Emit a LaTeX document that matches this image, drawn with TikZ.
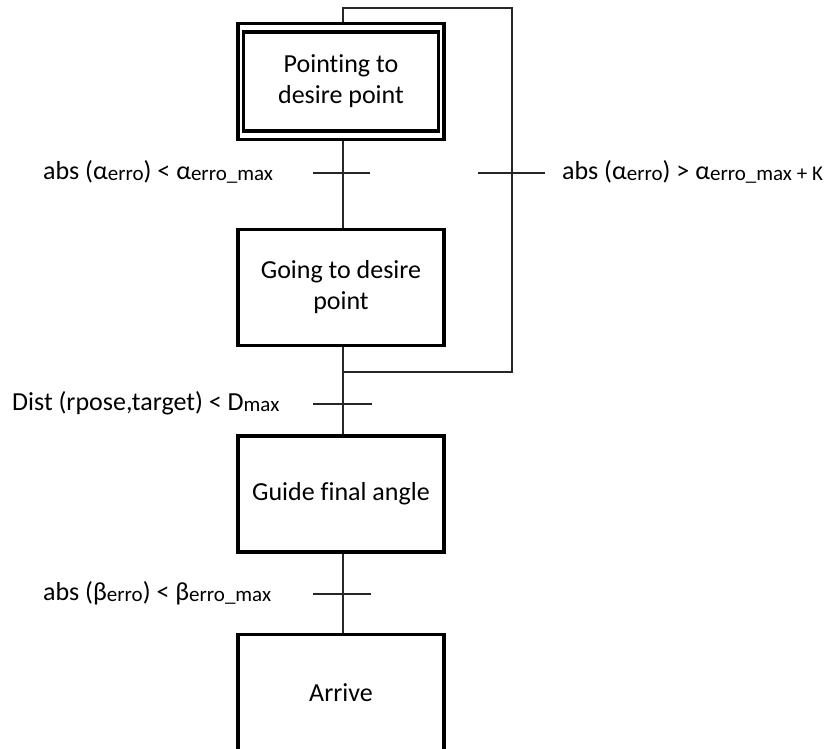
\documentclass[tikz,border=0pt]{standalone}
\usepackage{fontspec}
\setmainfont{Carlito}[Ligatures=NoCommon]
\usetikzlibrary{calc}

% small lowered text used for the index parts of the conditions
\newcommand{\idx}[1]{\raisebox{-1pt}{\fontsize{21}{24}\selectfont #1}}

\begin{document}
\begin{tikzpicture}[x=1pt,y=-1pt,
  stepbox/.style={draw, line width=3.2pt, minimum width=206pt, minimum height=116pt,
    align=center, inner sep=0pt, font=\fontsize{26}{31}\selectfont},
  innerbox/.style={draw, line width=3.2pt, minimum width=195pt, minimum height=99pt,
    align=center, inner sep=0pt, font=\fontsize{26}{31}\selectfont},
  link/.style={line width=1.5pt, draw=black!85},
  tick/.style={line width=1.5pt, draw=black!85},
  cond/.style={inner sep=0pt, font=\fontsize{26}{31}\selectfont}]

\useasboundingbox (0,0) rectangle (827,749);

% steps (the initial step has a double frame)
\node[stepbox] (s1) at (341,81.5) {};
\node[innerbox] (s1in) at (341,81.5) {Pointing to\\desire point};
\node[stepbox] (s2) at (341,287.5) {Going to desire\\point};
\node[stepbox] (s3) at (341,494) {Guide final angle};
\node[stepbox] (s4) at (341,692.5) {Arrive};

% spine points and loop corners
\coordinate (t1) at (343,173);
\coordinate (t1r) at (512,173);
\coordinate (t2) at (343,404);
\coordinate (t3) at (343,594);
\coordinate (j) at (343,372);
\coordinate (lb) at (512,372);
\coordinate (lt) at (512,8);
\coordinate (ll) at (343,8);

% connectors between steps
\draw[link] (s1.south -| t1) -- (s2.north -| t1);
\draw[link] (s2.south -| t1) -- (s3.north -| t1);
\draw[link] (s3.south -| t1) -- (s4.north -| t1);
% return loop from step 2 back to step 1
\draw[link] (j) -- (lb) -- (lt) -- (ll) -- (s1.north -| ll);

% transitions
\draw[tick] ($(t1)+(-30,0)$) -- ($(t1)+(27,0)$);
\draw[tick] ($(t1r)+(-34,0)$) -- ($(t1r)+(33,0)$);
\draw[tick] ($(t2)+(-30,0)$) -- ($(t2)+(29,0)$);
\draw[tick] ($(t3)+(-30,0)$) -- ($(t3)+(28,0)$);

% transition conditions
\node[cond, anchor=west] (c1) at (43,172) {abs (α\idx{erro}) < α\idx{erro\_max}};
\node[cond, anchor=west] (c1r) at (562,172) {abs (α\idx{erro}) > α\idx{erro\_max + K}};
\node[cond, anchor=west] (c2) at (12,403) {Dist (rpose,target) < D\idx{max}};
\node[cond, anchor=west] (c3) at (43,593) {abs (β\idx{erro}) < β\idx{erro\_max}};
\end{tikzpicture}
\end{document}
